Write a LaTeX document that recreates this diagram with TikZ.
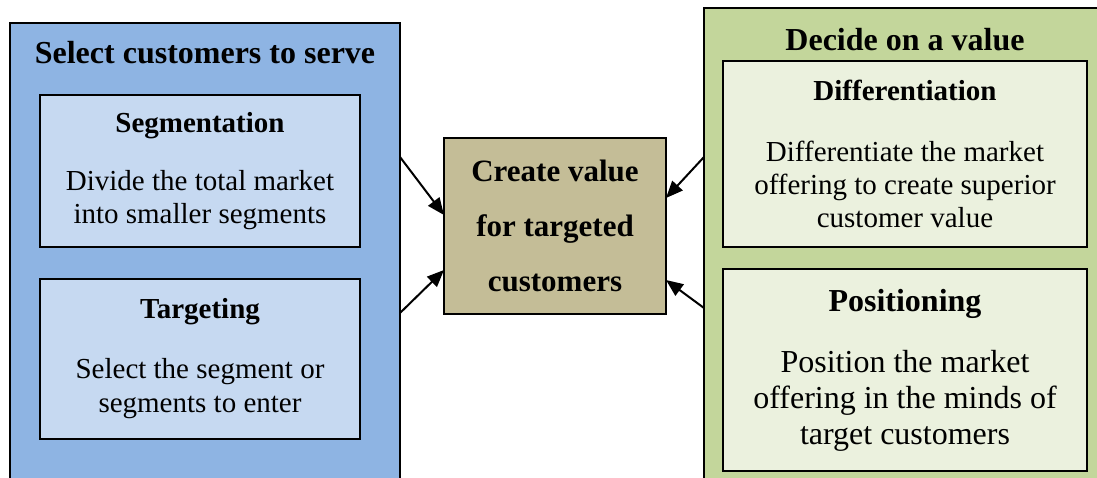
\documentclass[tikz,border=0pt]{standalone}
\usepackage{fontspec}
\setmainfont{Liberation Serif}
\usetikzlibrary{arrows.meta}
\definecolor{selblue}{HTML}{8EB4E3}
\definecolor{segblue}{HTML}{C6D9F1}
\definecolor{decgreen}{HTML}{C3D69B}
\definecolor{difgreen}{HTML}{EBF1DE}
\definecolor{cvtan}{HTML}{C4BD97}

\begin{document}
\begin{tikzpicture}[
      x=1pt, y=-1pt,
      every node/.style={outer sep=0pt, inner sep=0pt},
      outerbox/.style={draw, line width=1.8pt, anchor=north west},
      stagebox/.style={draw, line width=1.8pt, anchor=north west, align=center},
      headtext/.style={anchor=base, font=\fontsize{32}{38}\selectfont\bfseries},
      arr/.style={-{Triangle[length=17pt, width=14pt]}, line width=2pt},
    ]
    \useasboundingbox (0,0) rectangle (1097,477);
    \clip (0,0) rectangle (1097,477);

    % left column
    \node[outerbox, fill=selblue, minimum width=390pt, minimum height=480pt] (sel) at (10,23) {};
    \node[headtext] (seltitle) at (205,63) {Select customers to serve};
    \node[stagebox, fill=segblue, minimum width=320pt, minimum height=152pt,
          font=\fontsize{29}{33}\selectfont] (seg) at (40,95)
      {\textbf{Segmentation}\\[25pt]
       Divide the total market\\into smaller segments};
    \node[stagebox, fill=segblue, minimum width=320pt, minimum height=160pt,
          font=\fontsize{29}{34}\selectfont] (tgt) at (40,279)
      {\textbf{Targeting}\\[26pt]
       Select the segment or\\segments to enter};

    % right column
    \node[outerbox, fill=decgreen, minimum width=420pt, minimum height=500pt] (dec) at (704,8) {};
    \node[headtext] (dectitle) at (905,50) {Decide on a value};
    \node[stagebox, fill=difgreen, minimum width=364pt, minimum height=186pt,
          font=\fontsize{29}{33}\selectfont] (dif) at (723,61)
      {\textbf{Differentiation}\\[28pt]
       Differentiate the market\\offering to create superior\\customer value};
    \node[stagebox, fill=difgreen, minimum width=364pt, minimum height=202pt,
          font=\fontsize{32}{36}\selectfont] (pos) at (723,269)
      {\textbf{Positioning}\\[25pt]
       Position the market\\offering in the minds of\\target customers};

    % centre
    \node[stagebox, fill=cvtan, minimum width=222pt, minimum height=176pt,
          font=\fontsize{31}{55}\selectfont\bfseries] (cv) at (444,138)
      {Create value\\for targeted\\customers};

    \draw[arr] ([yshift=-134pt]sel.north east) -- ([yshift=-77pt]cv.north west);
    \draw[arr] ([yshift=-290pt]sel.north east) -- ([yshift=-132pt]cv.north west);
    \draw[arr] ([yshift=-149pt]dec.north west) -- ([yshift=-60pt]cv.north east);
    \draw[arr] ([yshift=-300pt]dec.north west) -- ([yshift=-142pt]cv.north east);
  \end{tikzpicture}
\end{document}
